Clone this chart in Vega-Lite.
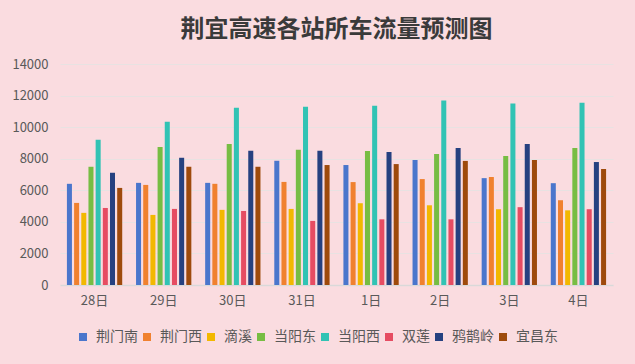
{
  "$schema": "https://vega.github.io/schema/vega-lite/v6.json",
  "width": 553,
  "height": 221,
  "autosize": "none",
  "padding": {"left": 60, "top": 64, "right": 22, "bottom": 79},
  "background": "#FADCE0",
  "title": {
    "text": "荆宜高速各站所车流量预测图",
    "font": "Noto Sans CJK SC",
    "fontSize": 24,
    "fontWeight": "bold",
    "color": "#3a3a3a",
    "anchor": "middle",
    "offset": 16
  },
  "config": {
    "view": {"stroke": null},
    "font": "Noto Sans CJK SC"
  },
  "data": {
    "values": [
      {"date": "28日", "station": "荆门南", "value": 6410},
      {"date": "28日", "station": "荆门西", "value": 5200},
      {"date": "28日", "station": "滴溪", "value": 4570},
      {"date": "28日", "station": "当阳东", "value": 7490},
      {"date": "28日", "station": "当阳西", "value": 9200},
      {"date": "28日", "station": "双莲", "value": 4880},
      {"date": "28日", "station": "鸦鹊岭", "value": 7110},
      {"date": "28日", "station": "宜昌东", "value": 6150},
      {"date": "29日", "station": "荆门南", "value": 6470},
      {"date": "29日", "station": "荆门西", "value": 6340},
      {"date": "29日", "station": "滴溪", "value": 4440},
      {"date": "29日", "station": "当阳东", "value": 8750},
      {"date": "29日", "station": "当阳西", "value": 10340},
      {"date": "29日", "station": "双莲", "value": 4820},
      {"date": "29日", "station": "鸦鹊岭", "value": 8060},
      {"date": "29日", "station": "宜昌东", "value": 7490},
      {"date": "30日", "station": "荆门南", "value": 6470},
      {"date": "30日", "station": "荆门西", "value": 6410},
      {"date": "30日", "station": "滴溪", "value": 4760},
      {"date": "30日", "station": "当阳东", "value": 8940},
      {"date": "30日", "station": "当阳西", "value": 11230},
      {"date": "30日", "station": "双莲", "value": 4690},
      {"date": "30日", "station": "鸦鹊岭", "value": 8500},
      {"date": "30日", "station": "宜昌东", "value": 7490},
      {"date": "31日", "station": "荆门南", "value": 7870},
      {"date": "31日", "station": "荆门西", "value": 6530},
      {"date": "31日", "station": "滴溪", "value": 4820},
      {"date": "31日", "station": "当阳东", "value": 8560},
      {"date": "31日", "station": "当阳西", "value": 11290},
      {"date": "31日", "station": "双莲", "value": 4060},
      {"date": "31日", "station": "鸦鹊岭", "value": 8500},
      {"date": "31日", "station": "宜昌东", "value": 7600},
      {"date": "1日", "station": "荆门南", "value": 7600},
      {"date": "1日", "station": "荆门西", "value": 6520},
      {"date": "1日", "station": "滴溪", "value": 5180},
      {"date": "1日", "station": "当阳东", "value": 8490},
      {"date": "1日", "station": "当阳西", "value": 11360},
      {"date": "1日", "station": "双莲", "value": 4160},
      {"date": "1日", "station": "鸦鹊岭", "value": 8430},
      {"date": "1日", "station": "宜昌东", "value": 7660},
      {"date": "2日", "station": "荆门南", "value": 7920},
      {"date": "2日", "station": "荆门西", "value": 6710},
      {"date": "2日", "station": "滴溪", "value": 5050},
      {"date": "2日", "station": "当阳东", "value": 8300},
      {"date": "2日", "station": "当阳西", "value": 11680},
      {"date": "2日", "station": "双莲", "value": 4160},
      {"date": "2日", "station": "鸦鹊岭", "value": 8680},
      {"date": "2日", "station": "宜昌东", "value": 7860},
      {"date": "3日", "station": "荆门南", "value": 6770},
      {"date": "3日", "station": "荆门西", "value": 6840},
      {"date": "3日", "station": "滴溪", "value": 4800},
      {"date": "3日", "station": "当阳东", "value": 8170},
      {"date": "3日", "station": "当阳西", "value": 11490},
      {"date": "3日", "station": "双莲", "value": 4930},
      {"date": "3日", "station": "鸦鹊岭", "value": 8940},
      {"date": "3日", "station": "宜昌东", "value": 7920},
      {"date": "4日", "station": "荆门南", "value": 6450},
      {"date": "4日", "station": "荆门西", "value": 5370},
      {"date": "4日", "station": "滴溪", "value": 4730},
      {"date": "4日", "station": "当阳东", "value": 8680},
      {"date": "4日", "station": "当阳西", "value": 11550},
      {"date": "4日", "station": "双莲", "value": 4800},
      {"date": "4日", "station": "鸦鹊岭", "value": 7790},
      {"date": "4日", "station": "宜昌东", "value": 7350}
    ]
  },
  "mark": {"type": "bar"},
  "encoding": {
    "x": {
      "field": "date",
      "type": "nominal",
      "sort": ["28日", "29日", "30日", "31日", "1日", "2日", "3日", "4日"],
      "scale": {"paddingInner": 0.2, "paddingOuter": 0.1},
      "axis": {
        "title": null,
        "labelAngle": 0,
        "labelFontSize": 13,
        "labelColor": "#595959",
        "labelPadding": 9,
        "ticks": false,
        "domainColor": "#D9D9D9",
        "domainWidth": 1.5,
        "grid": false
      }
    },
    "xOffset": {
      "field": "station",
      "type": "nominal",
      "sort": ["荆门南", "荆门西", "滴溪", "当阳东", "当阳西", "双莲", "鸦鹊岭", "宜昌东"],
      "scale": {"paddingInner": 0.3, "paddingOuter": 0}
    },
    "y": {
      "field": "value",
      "type": "quantitative",
      "scale": {"domain": [0, 14000], "nice": false},
      "axis": {
        "title": null,
        "values": [0, 2000, 4000, 6000, 8000, 10000, 12000, 14000],
        "format": "d",
        "labelFontSize": 13,
        "labelColor": "#595959",
        "labelPadding": 12,
        "ticks": false,
        "domain": false,
        "gridColor": "#E8E2E2",
        "gridWidth": 1
      }
    },
    "color": {
      "field": "station",
      "type": "nominal",
      "scale": {
        "domain": ["荆门南", "荆门西", "滴溪", "当阳东", "当阳西", "双莲", "鸦鹊岭", "宜昌东"],
        "range": ["#4A76CC", "#F0812F", "#F2B800", "#77BD43", "#31C3B4", "#E64C62", "#264180", "#9E4A0C"]
      },
      "legend": {
        "title": null,
        "orient": "none",
        "direction": "horizontal",
        "legendX": 16,
        "legendY": 266,
        "symbolType": "square",
        "symbolSize": 64,
        "symbolStrokeWidth": 0,
        "labelFontSize": 14,
        "labelColor": "#595959",
        "labelOffset": 6,
        "columnPadding": 2
      }
    }
  }
}
